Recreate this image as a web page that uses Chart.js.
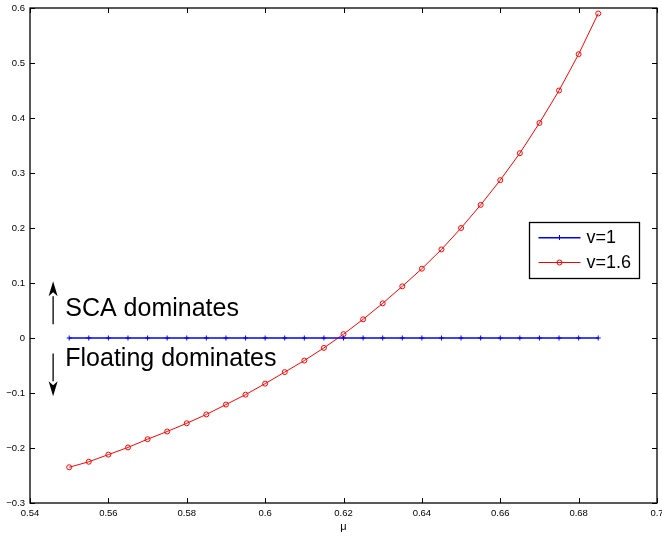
<!DOCTYPE html>
<html>
<head>
<meta charset="utf-8">
<script src="https://cdn.jsdelivr.net/npm/chart.js@4.4.0/dist/chart.umd.min.js"></script>
<style>
    html, body { margin: 0; padding: 0; background: #fff; }
</style>
</head>
<body>
<canvas id="chart" width="662" height="538"></canvas>
<script>
// Values.

const muValues = [
    0.55, 0.555, 0.56, 0.565, 0.57, 0.575, 0.58, 0.585, 0.59, 0.595,
    0.6, 0.605, 0.61, 0.615, 0.62, 0.625, 0.63, 0.635, 0.64, 0.645,
    0.65, 0.655, 0.66, 0.665, 0.67, 0.675, 0.68, 0.685
];
const v1Values = [
    0, 0, 0, 0, 0, 0, 0, 0, 0, 0,
    0, 0, 0, 0, 0, 0, 0, 0, 0, 0,
    0, 0, 0, 0, 0, 0, 0, 0
];
const v16Values = [
    -0.235, -0.225, -0.212, -0.199, -0.184, -0.170, -0.155, -0.139, -0.121, -0.103,
    -0.083, -0.062, -0.041, -0.018, 0.007, 0.034, 0.063, 0.094, 0.126, 0.161,
    0.200, 0.242, 0.287, 0.336, 0.391, 0.450, 0.516, 0.590
];
const seriesLabels = ['v=1', 'v=1.6'];
const seriesColors = ['#0000ff', '#ff0000'];
const xTickValues = [0.54, 0.56, 0.58, 0.6, 0.62, 0.64, 0.66, 0.68, 0.7];
const yTickValues = [-0.3, -0.2, -0.1, 0, 0.1, 0.2, 0.3, 0.4, 0.5, 0.6];
const xAxisTitle = 'μ';
const upperNote = 'SCA dominates';
const lowerNote = 'Floating dominates';

const FONT = '"Liberation Sans", Helvetica, Arial, sans-serif';


function formatTick(value) {
    const text = String(Number(value.toFixed(3)));
    return value < 0 ? '\u2212' + text.slice(1) : text;
}


function toPoints(xs, ys) {
    return xs.map((x, i) => ({ x: x, y: ys[i] }));
}


// MATLAB style frame: full box with inward ticks on all four sides
const framePlugin = {
    id: 'frame',
    afterDraw(chart) {
        const { ctx, chartArea, scales } = chart;
        const { left, right, top, bottom } = chartArea;
        const len = 5;
        ctx.save();
        ctx.strokeStyle = '#000';
        ctx.lineWidth = 1;
        ctx.beginPath();
        xTickValues.forEach(v => {
            const px = Math.round(scales.x.getPixelForValue(v)) + 0.5;
            ctx.moveTo(px, bottom); ctx.lineTo(px, bottom - len);
            ctx.moveTo(px, top); ctx.lineTo(px, top + len);
        });
        yTickValues.forEach(v => {
            const py = Math.round(scales.y.getPixelForValue(v)) + 0.5;
            ctx.moveTo(left, py); ctx.lineTo(left + len, py);
            ctx.moveTo(right, py); ctx.lineTo(right - len, py);
        });
        ctx.stroke();
        ctx.lineWidth = 1.3;
        ctx.strokeRect(left, top, right - left, bottom - top);
        ctx.restore();
    }
};


// Arrows and text notes placed in data coordinates
function drawArrow(ctx, x, y0, y1) {
    const dir = y1 < y0 ? 1 : -1;
    const headLen = 15, headHalf = 4.5;
    ctx.beginPath();
    ctx.moveTo(x, y0);
    ctx.lineTo(x, y1 + dir * headLen);
    ctx.stroke();
    ctx.beginPath();
    ctx.moveTo(x, y1);
    ctx.lineTo(x - headHalf, y1 + dir * headLen);
    ctx.lineTo(x, y1 + dir * (headLen - 4));
    ctx.lineTo(x + headHalf, y1 + dir * headLen);
    ctx.closePath();
    ctx.fill();
}

const notesPlugin = {
    id: 'notes',
    afterDatasetsDraw(chart) {
        const { ctx, scales } = chart;
        const sx = v => scales.x.getPixelForValue(v);
        const sy = v => scales.y.getPixelForValue(v);
        ctx.save();
        ctx.fillStyle = '#000';
        ctx.strokeStyle = '#000';
        ctx.lineWidth = 1.3;
        drawArrow(ctx, sx(0.5459), sy(0.025), sy(0.103));
        drawArrow(ctx, sx(0.5459), sy(-0.028), sy(-0.106));
        ctx.font = '25px ' + FONT;
        ctx.textAlign = 'left';
        ctx.textBaseline = 'alphabetic';
        ctx.fillText(upperNote, sx(0.5490), sy(0.040));
        ctx.fillText(lowerNote, sx(0.5490), sy(-0.050));
        ctx.restore();
    }
};


// Boxed legend at the right, as in the reference
const legendPlugin = {
    id: 'boxLegend',
    afterDraw(chart) {
        const { ctx } = chart;
        const box = { x: 529.5, y: 222.5, w: 110, h: 56 };
        ctx.save();
        ctx.fillStyle = '#fff';
        ctx.fillRect(box.x, box.y, box.w, box.h);
        ctx.strokeStyle = '#000';
        ctx.lineWidth = 1.3;
        ctx.strokeRect(box.x, box.y, box.w, box.h);
        ctx.font = '18px ' + FONT;
        ctx.textBaseline = 'middle';
        chart.data.datasets.forEach((ds, i) => {
            const cy = box.y + 15 + i * 25;
            const x0 = box.x + 9, x1 = box.x + 51, mx = (x0 + x1) / 2;
            ctx.strokeStyle = seriesColors[i];
            ctx.lineWidth = i === 0 ? 1.6 : 1;
            ctx.beginPath();
            ctx.moveTo(x0, cy + (i === 0 ? 0.3 : 0)); ctx.lineTo(x1, cy + (i === 0 ? 0.3 : 0));
            ctx.stroke();
            ctx.lineWidth = 1;
            ctx.beginPath();
            if (i === 0) {
                ctx.moveTo(mx - 2.5, cy); ctx.lineTo(mx + 2.5, cy);
                ctx.moveTo(mx, cy - 2.5); ctx.lineTo(mx, cy + 2.5);
            } else {
                ctx.arc(mx, cy, 2.5, 0, Math.PI * 2);
            }
            ctx.stroke();
            ctx.fillStyle = '#000';
            ctx.fillText(ds.label, box.x + 57, cy + 1);
        });
        ctx.restore();
    }
};


new Chart(document.getElementById('chart'), {
    type: 'line',
    data: {
        datasets: [
            {
                label: seriesLabels[0],
                data: toPoints(muValues, v1Values),
                borderColor: seriesColors[0],
                backgroundColor: seriesColors[0],
                borderWidth: 1.4,
                pointStyle: 'cross',
                pointRadius: 2.5,
                pointBorderWidth: 1,
                tension: 0
            },
            {
                label: seriesLabels[1],
                data: toPoints(muValues, v16Values),
                borderColor: seriesColors[1],
                backgroundColor: 'rgba(0,0,0,0)',
                borderWidth: 1,
                pointStyle: 'circle',
                pointRadius: 2.5,
                pointBorderWidth: 1,
                tension: 0
            }
        ]
    },
    options: {
        responsive: false,
        animation: false,
        events: [],
        layout: { padding: { top: 8, right: 5, left: 0, bottom: 0 } },
        plugins: {
            legend: { display: false },
            tooltip: { enabled: false }
        },
        scales: {
            x: {
                type: 'linear',
                min: 0.54,
                max: 0.7,
                grid: { display: false, drawTicks: false },
                border: { display: false },
                afterBuildTicks: scale => { scale.ticks = xTickValues.map(v => ({ value: v })); },
                afterFit: scale => {
                    scale.height = 35;
                    scale.paddingLeft = 0;
                    scale.paddingRight = 0;
                },
                ticks: {
                    color: '#000',
                    padding: 5,
                    maxRotation: 0,
                    autoSkip: false,
                    font: { family: FONT, size: 9.5 },
                    callback: v => formatTick(v)
                },
                title: {
                    display: true,
                    text: xAxisTitle,
                    color: '#000',
                    padding: { top: 2, bottom: 4 },
                    font: { family: FONT, size: 11 }
                }
            },
            y: {
                type: 'linear',
                min: -0.3,
                max: 0.6,
                grid: { display: false, drawTicks: false },
                border: { display: false },
                afterBuildTicks: scale => { scale.ticks = yTickValues.map(v => ({ value: v })); },
                afterFit: scale => {
                    scale.width = 30;
                    scale.paddingTop = 0;
                    scale.paddingBottom = 0;
                },
                ticks: {
                    color: '#000',
                    padding: 5,
                    autoSkip: false,
                    font: { family: FONT, size: 9.5 },
                    callback: v => formatTick(v)
                }
            }
        }
    },
    plugins: [framePlugin, notesPlugin, legendPlugin]
});
</script>
</body>
</html>
